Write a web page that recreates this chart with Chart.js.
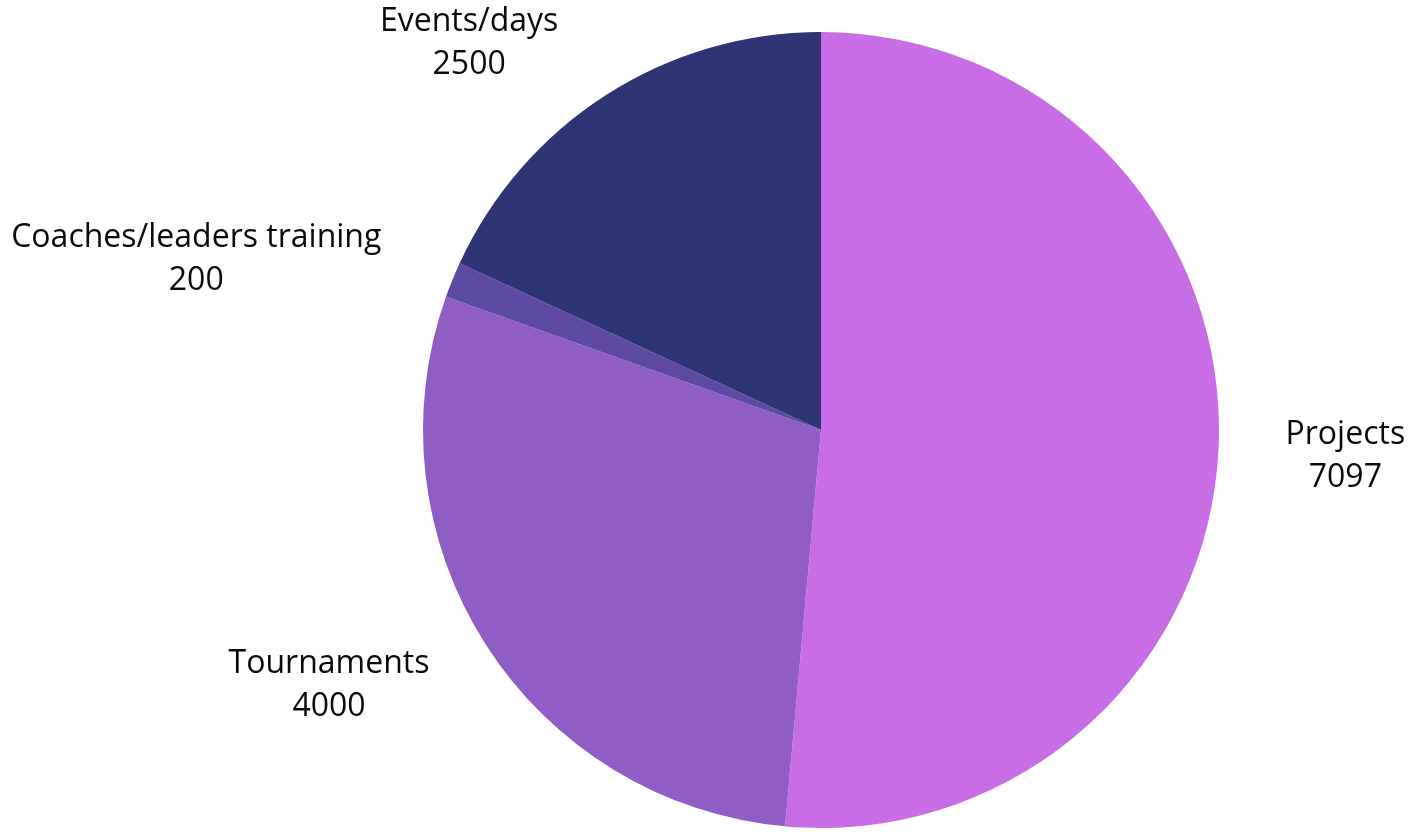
<!DOCTYPE html>
<html>
<head>
<meta charset="utf-8">
<script src="https://cdn.jsdelivr.net/npm/chart.js@4/dist/chart.umd.min.js"></script>
<style>
html,body{margin:0;padding:0;background:#fff;}
#wrap{width:1414px;height:832px;position:relative;}
</style>
</head>
<body>
<div id="wrap"><canvas id="c" width="1414" height="832"></canvas></div>
<script>
const categories = ["Projects", "Tournaments", "Coaches/leaders training", "Events/days"];
const values = [7097, 4000, 200, 2500];
const colors = ["#C86DE5", "#905DC4", "#5E4AA3", "#2F3474"];

const outsideLabels = {
  id: 'outsideLabels',
  afterDatasetsDraw(chart, args, opts) {
    const ctx = chart.ctx;
    const meta = chart.getDatasetMeta(0);
    const shifts = opts.shiftX || [];
    ctx.save();
    ctx.font = opts.font;
    ctx.fillStyle = opts.color;
    ctx.textBaseline = 'middle';
    ctx.textAlign = 'center';
    meta.data.forEach((arc, i) => {
      const p = arc.getProps(['x','y','startAngle','endAngle','outerRadius'], true);
      const mid = (p.startAngle + p.endAngle) / 2;
      const right = Math.cos(mid) >= 0;
      const r = p.outerRadius + opts.gap;
      const ax = p.x + Math.cos(mid) * r + (shifts[i] || 0);
      const ay = p.y + Math.sin(mid) * r + opts.offsetY;
      const lines = [categories[i], String(values[i])];
      let w = 0;
      lines.forEach(l => { w = Math.max(w, ctx.measureText(l).width); });
      const cx = right ? ax + w / 2 : ax - w / 2;
      const lh = opts.lineHeight;
      ctx.fillText(lines[0], cx, ay - lh / 2);
      ctx.fillText(lines[1], cx, ay + lh / 2);
    });
    ctx.restore();
  }
};

new Chart(document.getElementById('c'), {
  type: 'pie',
  data: {
    labels: categories,
    datasets: [{
      data: values,
      backgroundColor: colors,
      borderWidth: 0
    }]
  },
  options: {
    responsive: false,
    animation: false,
    layout: { padding: { left: 423, right: 195, top: 32, bottom: 4 } },
    plugins: {
      legend: { display: false },
      tooltip: { enabled: false },
      outsideLabels: {
        font: '32px "Open Sans"',
        color: '#0a0a0a',
        gap: 67,
        offsetY: 5,
        lineHeight: 43,
        shiftX: [0, 0, -9, -12]
      }
    }
  },
  plugins: [outsideLabels]
});
</script>
</body>
</html>
